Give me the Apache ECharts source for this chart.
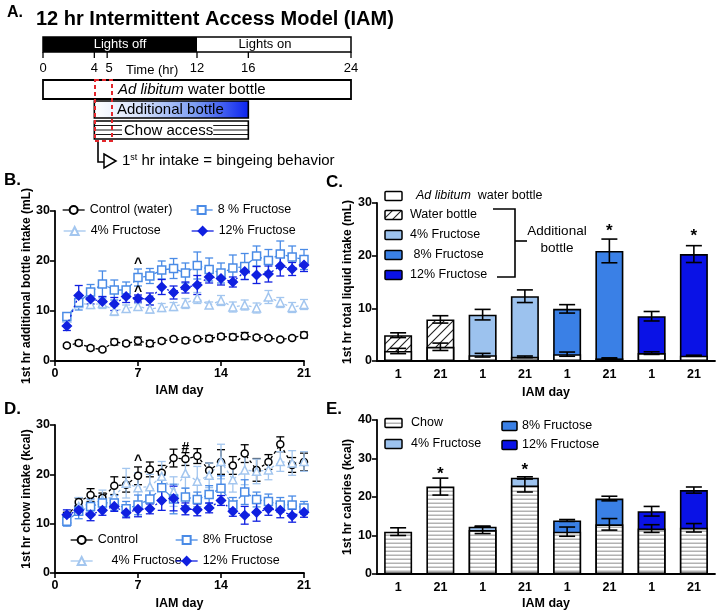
<!DOCTYPE html>
<html><head><meta charset="utf-8">
<script src="https://cdn.jsdelivr.net/npm/echarts@6/dist/echarts.min.js"></script>
<style>html,body{margin:0;padding:0;background:#fff}#c{width:722px;height:614px}</style>
</head><body><div id="c"></div>
<script>
// ---------------- DATA ----------------
const days = [1,2,3,4,5,6,7,8,9,10,11,12,13,14,15,16,17,18,19,20,21];
// Panel B: 1st hr additional bottle intake (mL)
const bControl    = [3.1,3.6,2.6,2.3,3.8,3.5,4.0,3.5,4.0,4.4,4.1,4.4,4.5,4.9,4.8,5.0,4.7,4.6,4.3,4.6,5.2];
const bControlErr = [0.3,0.5,0.4,0.3,0.6,0.4,0.8,0.6,0.4,0.3,0.5,0.4,0.6,0.5,0.6,0.7,0.4,0.3,0.3,0.3,0.6];
const bF4    = [8.6,11.5,11.3,11.5,10.0,10.5,10.9,10.4,10.7,10.9,11.5,12.6,11.2,12.1,10.8,11.2,10.6,12.8,11.7,10.7,11.3];
const bF4Err = [0.6,0.8,0.8,1.0,0.9,0.7,0.6,0.8,0.8,0.8,1.0,1.1,0.6,1.0,1.0,1.0,1.0,1.3,1.0,1.0,1.0];
const bF8    = [8.9,11.7,13.8,15.4,14.2,14.2,16.7,17.0,18.2,18.5,17.6,19.1,18.3,17.6,18.6,18.9,21.0,20.1,21.4,20.8,20.3];
const bF8Err = [0.7,1.5,1.5,2.6,2.0,1.6,1.7,1.5,1.8,2.0,2.0,2.7,2.3,2.0,2.6,2.6,2.0,2.2,2.6,2.2,2.0];
const bF12    = [7.0,13.1,12.4,11.9,11.4,12.9,12.5,12.4,14.8,13.7,14.7,15.2,16.8,16.5,15.8,17.9,17.2,17.4,19.0,18.4,19.2];
const bF12Err = [0.9,2.0,1.0,1.0,1.3,1.2,0.7,1.2,1.5,1.3,1.1,1.9,1.2,1.3,1.0,1.6,1.7,1.6,2.0,1.3,1.3];
const bMarks = [[7,19.4],[7,13.8]]; const bMarkText = ['^','^'];

// Panel D: 1st hr chow intake (kcal)
const dControl    = [11.5,14.4,15.8,15.2,17.7,17.9,19.7,21.0,20.3,23.3,23.1,23.7,20.8,22.5,21.8,24.2,20.9,22.5,26.1,21.9,22.5];
const dControlErr = [0.8,0.8,1.3,1.0,1.8,1.5,1.8,1.5,1.5,1.8,1.3,1.5,1.5,2.5,1.8,1.8,2.3,1.5,1.5,1.5,1.8];
const dF4    = [11.0,13.5,14.0,14.8,15.5,18.2,17.3,17.5,19.6,16.5,20.2,18.6,19.8,22.6,18.9,20.9,20.6,20.9,22.6,22.3,22.6];
const dF4Err = [1.0,1.8,1.5,2.0,2.0,3.0,3.0,2.5,3.0,3.0,3.0,3.0,2.5,3.5,2.5,3.0,2.5,2.0,2.0,2.5,2.0];
const dF8    = [10.5,12.5,13.5,14.2,14.2,13.0,13.8,15.0,17.3,15.0,15.4,14.9,15.9,17.2,13.8,16.4,14.9,14.5,13.8,13.8,13.2];
const dF8Err = [1.0,1.5,1.5,1.5,1.5,1.5,2.0,2.0,2.5,3.0,1.8,1.5,1.8,2.5,1.5,2.5,1.5,1.5,1.5,1.8,1.3];
const dF12    = [11.8,12.7,11.8,12.7,13.5,12.2,12.9,13.0,14.7,15.1,13.0,12.8,13.2,14.7,12.5,11.7,12.3,13.0,12.7,11.6,12.3];
const dF12Err = [1.0,1.0,1.2,1.0,1.0,1.0,1.5,1.0,2.0,2.5,1.2,1.2,1.0,1.0,1.0,1.8,1.8,1.3,1.5,1.3,1.0];
const dMarks = [[7,22.6],[11,25.4]]; const dMarkText = ['^','#'];

// Panel C: 1st hr total liquid intake (mL)
const cLabels   = ['1','21','1','21','1','21','1','21'];
const cGroups   = ['water','water','f4','f4','f8','f8','f12','f12'];
const cBase     = [1.9,2.7,1.1,0.8,1.3,0.5,1.5,1.0];
const cBaseErr  = [0.5,0.7,0.35,0.15,0.4,0.1,0.25,0.1];
const cTotal    = [4.9,7.9,8.8,12.3,9.9,20.9,8.5,20.3];
const cTotalErr = [0.45,0.7,1.0,1.2,0.8,2.25,0.9,1.6];
const cMarks = [[5,24.6],[7,23.6]]; const cMarkText = ['*','*'];

// Panel E: 1st hr calories (kcal)
const eLabels   = ['1','21','1','21','1','21','1','21'];
const eGroups   = ['chow','chow','f4','f4','f8','f8','f12','f12'];
const eChow     = [11.0,22.7,11.4,23.0,11.0,12.9,11.8,12.0];
const eChowErr  = [1.0,2.2,0.9,1.7,1.2,1.5,1.0,1.1];
const eTotal    = [null,null,12.3,25.0,13.9,19.6,16.3,21.8];
const eTotalErr = [null,null,0.15,0.25,0.25,0.6,1.25,0.8];
const eMarks = [[1,26.0],[3,27.0]]; const eMarkText = ['*','*'];

// Panel A schematic hours
const tlHours = [0,4,5,12,16,24];

// ---------------- STYLE ----------------
const FONT = "'Liberation Sans', Arial, sans-serif";
const COL = {f4:'#9cc2ee', f8:'#3a80e6', f12:'#0a12e6', f4line:'#a3c6ef', f8line:'#4a8be6', f12line:'#1020e0'};

function hatchCanvas(){
  const s=9, c=document.createElement('canvas'); c.width=c.height=s; const g=c.getContext('2d');
  g.fillStyle='#fff'; g.fillRect(0,0,s,s); g.strokeStyle='#222'; g.lineWidth=1.1;
  g.beginPath(); g.moveTo(-1,s+1); g.lineTo(s+1,-1); g.moveTo(-1,1); g.lineTo(1,-1); g.moveTo(s-1,s+1); g.lineTo(s+1,s-1); g.stroke();
  return c;
}
function stripeCanvas(){
  const c=document.createElement('canvas'); c.width=4; c.height=4; const g=c.getContext('2d');
  g.fillStyle='#fff'; g.fillRect(0,0,4,4); g.fillStyle='#a0a0a0'; g.fillRect(0,2.6,4,1.2);
  return c;
}
const HATCH = {image: hatchCanvas(), repeat:'repeat'};
const STRIPE = {image: stripeCanvas(), repeat:'repeat'};
const FILL = {water:HATCH, chow:STRIPE, f4:COL.f4, f8:COL.f8, f12:COL.f12};

function xValAxis(gi, nameGap){
  return {type:'value', gridIndex:gi, min:0, max:21, interval:7, name:'IAM day', nameLocation:'middle', nameGap:nameGap,
    nameTextStyle:{fontWeight:'bold', fontSize:12.5, color:'#000', fontFamily:FONT},
    axisLine:{lineStyle:{color:'#000', width:1.8}}, axisTick:{length:5, lineStyle:{color:'#000', width:1.6}},
    axisLabel:{color:'#000', fontWeight:'bold', fontSize:12.5, fontFamily:FONT, margin:6}, splitLine:{show:false}};
}
function yValAxis(gi, max, name, nameGap){
  return {type:'value', gridIndex:gi, min:0, max:max, interval:10, name:name, nameLocation:'middle', nameGap:nameGap,
    nameTextStyle:{fontWeight:'bold', fontSize:12, color:'#000', fontFamily:FONT},
    axisLine:{show:true, lineStyle:{color:'#000', width:1.8}}, axisTick:{show:true, length:5, lineStyle:{color:'#000', width:1.6}},
    axisLabel:{color:'#000', fontWeight:'bold', fontSize:12.5, fontFamily:FONT, margin:5}, splitLine:{show:false}};
}
function xCatAxis(gi, labels, nameGap){
  return {type:'category', gridIndex:gi, data:labels.map((_,i)=>String(i)), name:'IAM day', nameLocation:'middle', nameGap:nameGap,
    nameTextStyle:{fontWeight:'bold', fontSize:12.5, color:'#000', fontFamily:FONT},
    axisLine:{lineStyle:{color:'#000', width:1.8}}, axisTick:{alignWithLabel:true, length:5, lineStyle:{color:'#000', width:1.6}},
    axisLabel:{color:'#000', fontWeight:'bold', fontSize:12.5, fontFamily:FONT, margin:7, formatter:(v,i)=>labels[i]}, splitLine:{show:false}};
}

function errSeries(ax, vals, errs, xs, color, cap, lw, z){
  const data=[];
  vals.forEach((v,i)=>{ if(v!=null && errs[i]!=null) data.push([xs[i], v-errs[i], v+errs[i]]); });
  return {type:'custom', xAxisIndex:ax, yAxisIndex:ax, z:z, silent:true, data:data, encode:{x:0, y:[1,2]},
    renderItem:(params, api)=>{
      const x=api.value(0), p1=api.coord([x, api.value(1)]), p2=api.coord([x, api.value(2)]), h=cap/2;
      const st={stroke:color, lineWidth:lw};
      return {type:'group', children:[
        {type:'line', shape:{x1:p1[0],y1:p1[1],x2:p2[0],y2:p2[1]}, style:st},
        {type:'line', shape:{x1:p1[0]-h,y1:p1[1],x2:p1[0]+h,y2:p1[1]}, style:st},
        {type:'line', shape:{x1:p2[0]-h,y1:p2[1],x2:p2[0]+h,y2:p2[1]}, style:st}]};
    }};
}
function markSeries(ax, marks, texts, size){
  return {type:'custom', xAxisIndex:ax, yAxisIndex:ax, z:10, silent:true, data:marks, encode:{x:0,y:1},
    renderItem:(params, api)=>{
      const p=api.coord([api.value(0), api.value(1)]);
      return {type:'text', x:p[0], y:p[1], style:{text:texts[params.dataIndex], font:'bold '+size+'px '+FONT, fill:'#000', align:'center', verticalAlign:'middle'}};
    }};
}
function lineSeries(ax, name, vals, symbol, size, color, fillColor, dash, z){
  return {type:'line', name:name, xAxisIndex:ax, yAxisIndex:ax, z:z, data:vals.map((v,i)=>[days[i], v]),
    symbol:symbol, symbolSize:size, showSymbol:true,
    lineStyle:{color:color, width:1.3, type:dash},
    itemStyle:{color:fillColor, borderColor:color, borderWidth:1.5}};
}

// ---------------- CHART ----------------
const chart = echarts.init(document.getElementById('c'), null, {renderer:'canvas'});
const series = [];
// Panel B (grid 0)
series.push(errSeries(0, bControl, bControlErr, days, '#000', 8, 1.3, 3));
series.push(errSeries(0, bF4, bF4Err, days, COL.f4line, 8, 1.3, 3));
series.push(errSeries(0, bF8, bF8Err, days, COL.f8line, 8, 1.3, 3));
series.push(errSeries(0, bF12, bF12Err, days, COL.f12line, 8, 1.3, 3));
series.push(lineSeries(0, 'Control (water)', bControl, 'circle', 7, '#000', '#fff', [3,3], 5));
series.push(lineSeries(0, '4% Fructose', bF4, 'triangle', 8, COL.f4line, '#fff', [3,3], 5));
series.push(lineSeries(0, '8 % Fructose', bF8, 'rect', 8, COL.f8line, '#fff', [4,2], 5));
series.push(lineSeries(0, '12% Fructose', bF12, 'diamond', 9, COL.f12line, COL.f12line, [2,3], 6));
series.push(markSeries(0, bMarks, bMarkText, 14));
// Panel D (grid 2)
series.push(errSeries(2, dControl, dControlErr, days, '#000', 8, 1.3, 3));
series.push(errSeries(2, dF4, dF4Err, days, COL.f4line, 8, 1.3, 3));
series.push(errSeries(2, dF8, dF8Err, days, COL.f8line, 8, 1.3, 3));
series.push(errSeries(2, dF12, dF12Err, days, COL.f12line, 8, 1.3, 3));
series.push(lineSeries(2, 'Control', dControl, 'circle', 7, '#000', '#fff', [3,3], 5));
series.push(lineSeries(2, '4% Fructose', dF4, 'triangle', 8, COL.f4line, '#fff', [3,3], 5));
series.push(lineSeries(2, '8% Fructose', dF8, 'rect', 8, COL.f8line, '#fff', [4,2], 5));
series.push(lineSeries(2, '12% Fructose', dF12, 'diamond', 9, COL.f12line, COL.f12line, [2,3], 6));
series.push(markSeries(2, dMarks, dMarkText, 14));
// Panel C (grid 1)
const catIdx = cLabels.map((_,i)=>i);
series.push({type:'bar', name:'cTop', xAxisIndex:1, yAxisIndex:1, barWidth:28, barGap:'-100%', z:2,
  data:cTotal.map((v,i)=>({value:v, itemStyle:{color:FILL[cGroups[i]]}})), itemStyle:{borderColor:'#000', borderWidth:1.6}});
series.push({type:'bar', name:'cBase', xAxisIndex:1, yAxisIndex:1, barWidth:28, barGap:'-100%', z:3,
  data:cBase, itemStyle:{color:'#fff', borderColor:'#000', borderWidth:1.6}});
series.push(errSeries(1, cBase, cBaseErr, catIdx, '#000', 16, 1.6, 6));
series.push(errSeries(1, cTotal, cTotalErr, catIdx, '#000', 16, 1.6, 6));
series.push(markSeries(1, cMarks, cMarkText, 17));
// Panel E (grid 3)
series.push({type:'bar', name:'eTop', xAxisIndex:3, yAxisIndex:3, barWidth:28, barGap:'-100%', z:2,
  data:eTotal.map((v,i)=>({value:v, itemStyle:{color:FILL[eGroups[i]]}})), itemStyle:{borderColor:'#000', borderWidth:1.6}});
series.push({type:'bar', name:'eChow', xAxisIndex:3, yAxisIndex:3, barWidth:28, barGap:'-100%', z:3,
  data:eChow, itemStyle:{color:STRIPE, borderColor:'#000', borderWidth:1.6}});
series.push(errSeries(3, eChow, eChowErr, catIdx, '#000', 16, 1.6, 6));
series.push(errSeries(3, eTotal, eTotalErr, catIdx, '#000', 16, 1.6, 6));
series.push(markSeries(3, eMarks, eMarkText, 17));

function leg(left, top, name, fmt){
  const o = {left:left, top:top, data:[name], selectedMode:false, padding:0, itemWidth:22, itemHeight:10,
    lineStyle:{type:'solid', width:1.3},
    textStyle:{fontSize:12.5, color:'#000', fontFamily:FONT}};
  if (fmt) o.formatter = fmt;
  return o;
}

// ---------------- GRAPHIC (schematic, legends for bars, labels) ----------------
const hx = h => 43 + h*308/24;
const G = [];
const T = (x,y,text,size,opts)=>Object.assign({type:'text', x:x, y:y, silent:true,
  style:Object.assign({text:text, font:(opts&&opts.bold?'bold ':'')+size+'px '+FONT, fill:'#000', align:'left', verticalAlign:'middle'}, (opts&&opts.style)||{})});
G.push(T(7, 13, 'A.', 16, {bold:true}));
G.push(T(36, 19, '12 hr Intermittent Access Model (IAM)', 20, {bold:true}));
G.push({type:'rect', shape:{x:hx(0), y:37, width:hx(12)-hx(0), height:15}, style:{fill:'#000'}});
G.push({type:'rect', shape:{x:hx(0), y:37, width:hx(24)-hx(0), height:15}, style:{fill:'none', stroke:'#000', lineWidth:1.5}});
G.push(T(120, 44.5, 'Lights off', 13, {style:{fill:'#fff', align:'center'}}));
G.push(T(265, 44.5, 'Lights on', 13, {style:{align:'center'}}));
tlHours.forEach(h=>{
  G.push({type:'line', shape:{x1:hx(h), y1:52, x2:hx(h), y2:58}, style:{stroke:'#000', lineWidth:1.3}});
  G.push(T(hx(h)+(h===5?2:0), 68, String(h), 13, {style:{align:'center'}}));
});
G.push(T(126, 70, 'Time (hr)', 13));
G.push({type:'rect', shape:{x:hx(0), y:80, width:hx(24)-hx(0), height:19}, style:{fill:'#fff', stroke:'#000', lineWidth:1.8}});
G.push({type:'text', x:118, y:90, silent:true, style:{text:'{it|Ad libitum} water bottle', font:'15px '+FONT, fill:'#000', verticalAlign:'middle',
  rich:{it:{fontStyle:'italic', fontSize:15, fontFamily:FONT}}}});
G.push({type:'rect', shape:{x:hx(4), y:101, width:hx(16)-hx(4), height:17},
  style:{fill:{type:'linear', x:0, y:0, x2:1, y2:0, colorStops:[{offset:0,color:'#ffffff'},{offset:0.3,color:'#d6e2fb'},{offset:0.65,color:'#7d9ef3'},{offset:1,color:'#0a22ee'}]}, stroke:'#000', lineWidth:1.6}});
G.push(T(117, 110, 'Additional bottle', 15));
G.push({type:'rect', shape:{x:hx(4), y:121, width:hx(16)-hx(4), height:18}, style:{fill:'#fff', stroke:'#000', lineWidth:1.6}});
[125.5, 130, 134.5].forEach(y=>{
  G.push({type:'line', shape:{x1:hx(4), y1:y, x2:122, y2:y}, style:{stroke:'#000', lineWidth:0.9}});
  G.push({type:'line', shape:{x1:210, y1:y, x2:hx(16), y2:y}, style:{stroke:'#000', lineWidth:0.9}});
});
G.push(T(124, 130.5, 'Chow access', 15, {style:{backgroundColor:'#fff'}}));
G.push({type:'rect', shape:{x:95, y:80, width:17, height:61}, style:{fill:'none', stroke:'#e3262b', lineWidth:2, lineDash:[4,3]}, z:20});
G.push({type:'polyline', shape:{points:[[98,142],[98,162],[104,162]]}, style:{stroke:'#000', lineWidth:1.6, fill:'none'}});
G.push({type:'polygon', shape:{points:[[104,154],[116,161],[104,168]]}, style:{stroke:'#000', lineWidth:1.5, fill:'#fff'}});
G.push({type:'text', x:122, y:161, silent:true, style:{text:'1{sup|st} hr intake = bingeing behavior', font:'15px '+FONT, fill:'#000', verticalAlign:'middle',
  rich:{sup:{fontSize:9, fontFamily:FONT, verticalAlign:'top', padding:[0,0,7,0]}}}});

// Panel letters
G.push(T(4, 180, 'B.', 17, {bold:true}));
G.push(T(326, 182, 'C.', 17, {bold:true}));
G.push(T(4, 409, 'D.', 17, {bold:true}));
G.push(T(326, 409, 'E.', 17, {bold:true}));

// Panel C legend
const cLeg = [['{it|Ad libitum}  water bottle','#fff',196],['Water bottle',HATCH,215],['4% Fructose',COL.f4,235],[' 8% Fructose',COL.f8,255],['12% Fructose',COL.f12,275]];
cLeg.forEach(([t,f,y],i)=>{
  G.push({type:'rect', shape:{x:385, y:y-4.5, width:17, height:9, r:1}, style:{fill:f, stroke:'#000', lineWidth:1.5}});
  G.push({type:'text', x:i===0?416:410, y:y, silent:true, style:{text:t, font:'12.5px '+FONT, fill:'#000', verticalAlign:'middle', rich:{it:{fontStyle:'italic', fontSize:12.5, fontFamily:FONT}}}});
});
G.push({type:'polyline', shape:{points:[[493,209],[515,209],[515,277],[497,277]]}, style:{stroke:'#000', lineWidth:1.6, fill:'none'}});
G.push({type:'line', shape:{x1:515, y1:241, x2:527, y2:241}, style:{stroke:'#000', lineWidth:1.6}});
G.push(T(557, 231, 'Additional', 13.5, {style:{align:'center'}}));
G.push(T(557, 248, 'bottle', 13.5, {style:{align:'center'}}));

// Panel E legend
const eLeg = [['Chow',STRIPE,385,411,423],['4% Fructose',COL.f4,385,411,444],['8% Fructose',COL.f8,502,522,426],['12% Fructose',COL.f12,502,522,445]];
eLeg.forEach(([t,f,bx,tx,y])=>{
  G.push({type:'rect', shape:{x:bx, y:y-4.5, width:bx===385?17:15, height:9, r:1}, style:{fill:f, stroke:'#000', lineWidth:1.5}});
  G.push(T(tx, y, t, 12.5));
});

const option = {
  animation:false,
  backgroundColor:'#fff',
  textStyle:{fontFamily:FONT},
  grid:[
    {left:55, top:211, width:249, height:150, containLabel:false, outerBoundsMode:'none'},
    {left:377, top:203, width:338, height:158, containLabel:false, outerBoundsMode:'none'},
    {left:55, top:425, width:249, height:148, containLabel:false, outerBoundsMode:'none'},
    {left:377, top:420, width:338, height:154, containLabel:false, outerBoundsMode:'none'}
  ],
  xAxis:[xValAxis(0, 23), xCatAxis(1, cLabels, 25), xValAxis(2, 24), xCatAxis(3, eLabels, 23)],
  yAxis:[yValAxis(0, 30, '1st hr additional bottle intake (mL)', 21), yValAxis(1, 30, '1st hr total liquid intake (mL)', 23),
         yValAxis(2, 30, '1st hr chow intake (kcal)', 21), yValAxis(3, 40, '1st hr calories (kcal)', 23)],
  legend:[
    leg(62, 203.5, 'Control (water)'), leg(190, 203.5, '8 % Fructose'), leg(63, 224.5, '4% Fructose'), leg(191, 224.5, '12% Fructose'),
    leg(70, 533.5, 'Control'), leg(175, 533.5, '8% Fructose'), leg(70, 554.5, '4% Fructose', '    {name}'), leg(175, 554.5, '12% Fructose')
  ],
  series:series,
  graphic:{elements:G}
};
chart.setOption(option);
</script>
</body></html>
